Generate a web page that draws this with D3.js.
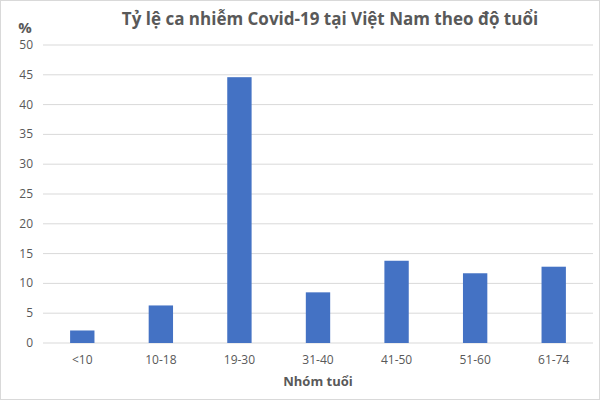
<!DOCTYPE html>
<html><head><meta charset="utf-8">
<script src="https://cdn.jsdelivr.net/npm/d3@7"></script>
<style>body{margin:0;background:#fff}</style></head>
<body><svg id="c" width="600" height="400"></svg>
<script>
const categories = ["<10","10-18","19-30","31-40","41-50","51-60","61-74"];
const values = [2.1, 6.3, 44.6, 8.5, 13.8, 11.7, 12.8];
const yTicks = [0,5,10,15,20,25,30,35,40,45,50];
const title = "Tỷ lệ ca nhiễm Covid-19 tại Việt Nam theo độ tuổi";

const svg = d3.select("#c");
const font = "'Open Sans', 'Liberation Sans', sans-serif";
svg.append("rect").attr("x",0.5).attr("y",0.5).attr("width",599).attr("height",399)
  .attr("fill","#fff").attr("stroke","#d9d9d9");
const L=43, R=593, T=45, B=343;
const x = d3.scaleBand().domain(categories).range([L,R]).paddingInner(0.69).paddingOuter(0.345);
const y = d3.scaleLinear().domain([0,50]).range([B,T]);

svg.append("g").selectAll("line").data(yTicks).join("line")
  .attr("x1",L).attr("x2",R).attr("y1",d=>y(d)).attr("y2",d=>y(d))
  .attr("stroke","#d9d9d9").attr("stroke-width",1);
svg.append("g").selectAll("text").data(yTicks).join("text")
  .attr("x",L-10).attr("y",d=>y(d)+4).attr("text-anchor","end")
  .attr("font-family",font).attr("font-size",12).attr("fill","#595959").text(d=>d);

svg.append("g").selectAll("rect").data(values).join("rect")
  .attr("x",(d,i)=>x(categories[i])).attr("width",x.bandwidth())
  .attr("y",d=>y(d)).attr("height",d=>y(0)-y(d)).attr("fill","#4472c4");

svg.append("g").selectAll("text").data(categories).join("text")
  .attr("x",d=>x(d)+x.bandwidth()/2).attr("y",B+21).attr("text-anchor","middle")
  .attr("font-family",font).attr("font-size",12).attr("fill","#595959").text(d=>d);

svg.append("text").attr("x",330).attr("y",25).attr("text-anchor","middle")
  .attr("font-family",font).attr("font-size",17).attr("font-weight","bold").attr("fill","#595959").text(title);
svg.append("text").attr("x",25).attr("y",33).attr("text-anchor","middle")
  .attr("font-family",font).attr("font-size",15).attr("font-weight","bold").attr("fill","#595959").text("%");
svg.append("text").attr("x",318).attr("y",386).attr("text-anchor","middle")
  .attr("font-family",font).attr("font-size",13).attr("font-weight","bold").attr("fill","#595959").text("Nhóm tuổi");
</script></body></html>
